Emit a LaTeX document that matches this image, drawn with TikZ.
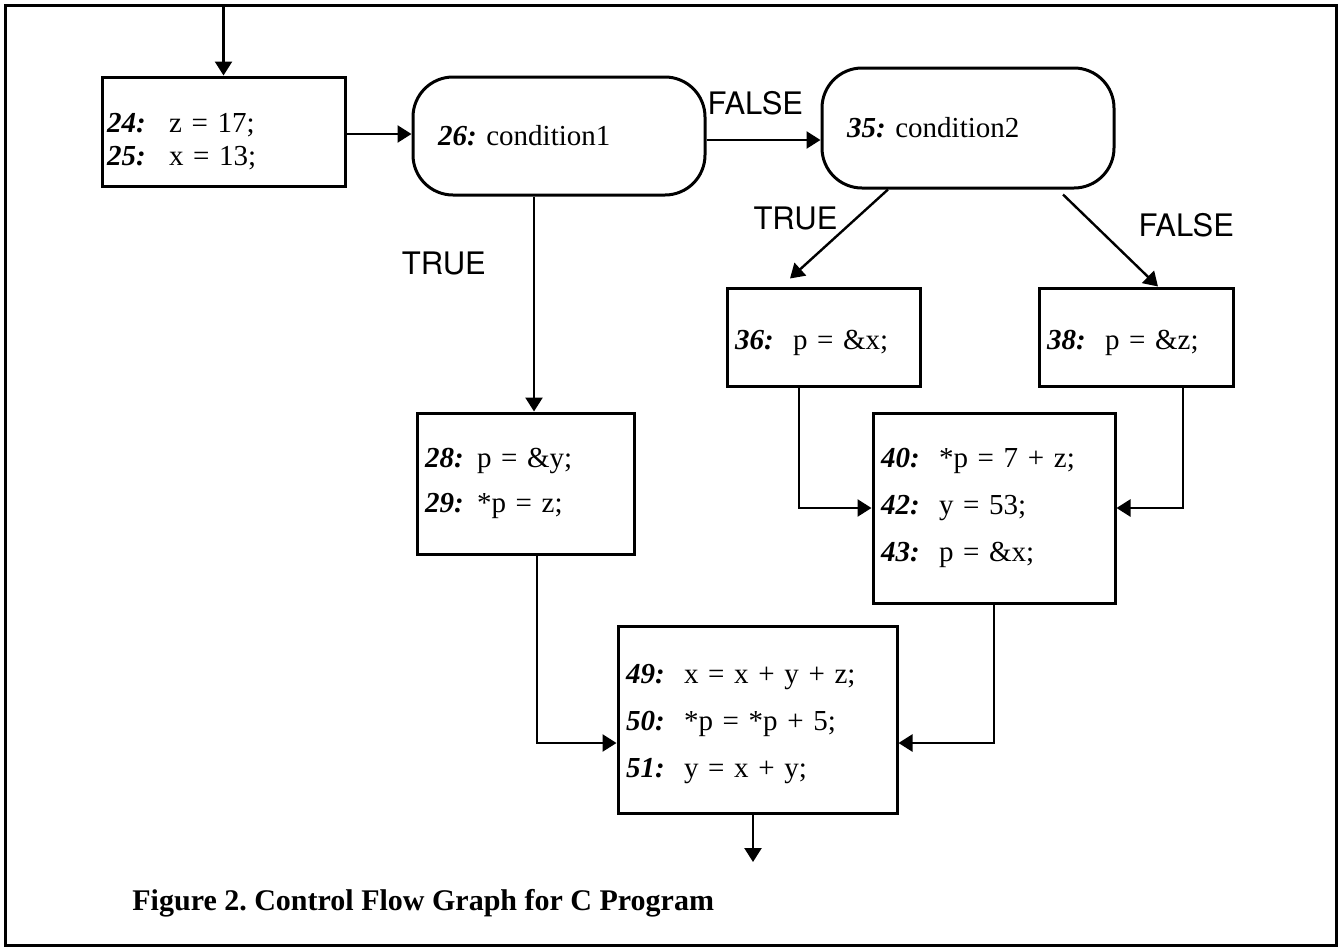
\documentclass[tikz,border=0pt]{standalone}
\usepackage{fontspec}
\setmainfont{Liberation Serif}
\setsansfont{TeX Gyre Heros}
\usepackage{tikz}
\usetikzlibrary{arrows.meta}
\frenchspacing

\newcommand{\stmt}[3][29pt]{\makebox[#1][l]{\textbf{\textit{#2}}}#3}
\newcommand{\padtop}[1]{\rule{0pt}{#1}}

\begin{document}
\begin{tikzpicture}[x=0.5pt, y=-0.5pt,
  blk/.style={draw, rectangle, line width=1.5pt, align=left, inner xsep=4pt, inner ysep=0pt, font=\fontsize{14.5}{23.5}\selectfont},
  cond/.style={blk, rounded corners=20pt, inner xsep=12.5pt},
  lbl/.style={inner sep=0pt, font=\fontsize{15.5}{18}\selectfont\sffamily},
  flow/.style={line width=1.2pt, -{Triangle[length=7pt,width=8.5pt]}}]
  \useasboundingbox (0,0) rectangle (1340,948);
  \draw[line width=1.5pt] (5,5) rectangle (1336,945);

  \node[blk, text width=116.5pt, inner xsep=2.5pt, minimum height=54.5pt, font=\fontsize{14.5}{16.5}\selectfont] (init) at (223.5,131.5) {\padtop{20pt}\stmt[31pt]{24:}{z = 17;}\\ \stmt[31pt]{25:}{x = 13;}};
  \node[cond, text width=121pt, minimum height=59pt] (cond1) at (559,136) {\textbf{\textit{26:}} condition1};
  \node[cond, text width=121pt, minimum height=60pt] (cond2) at (968,128) {\textbf{\textit{35:}} condition2};
  \node[blk, text width=88.5pt, minimum height=49pt] (asgnx) at (823.5,337) {\padtop{16pt}\stmt{36:}{p = \&x;}};
  \node[blk, text width=89pt, minimum height=49pt] (asgnz) at (1136,337) {\padtop{16pt}\stmt{38:}{p = \&z;}};
  \node[blk, text width=100.5pt, minimum height=70.5pt, font=\fontsize{14.5}{22.5}\selectfont] (asgny) at (525.5,483.5) {\stmt[26pt]{28:}{p = \&y;}\\ \stmt[26pt]{29:}{*p = z;}};
  \node[blk, text width=113pt, minimum height=95pt] (merge1) at (994,508) {\stmt{40:}{*p = 7 + z;}\\ \stmt{42:}{y = 53;}\\ \stmt{43:}{p = \&x;}};
  \node[blk, text width=131.5pt, minimum height=93.5pt] (merge2) at (757.5,719.5) {\padtop{14pt}\stmt{49:}{x = x + y + z;}\\ \stmt{50:}{*p = *p + 5;}\\ \stmt{51:}{y = x + y;}};
  \node[anchor=base west, inner sep=0pt, font=\fontsize{15}{17}\selectfont\bfseries] (caption) at (132,910) {Figure 2. Control Flow Graph for C Program};

  \coordinate (entry) at (223.5,5);
  \coordinate (exit) at (753,862);

  \draw[flow] (entry) -- (init.north);
  \draw[flow] ([yshift=-1.25pt]init.east) -- ([yshift=-1.25pt]init.east -| cond1.west);
  \draw[flow] ([yshift=-2pt]cond1.east) -- node[lbl, pos=0, anchor=south west, yshift=12pt] {FALSE} ([yshift=-2pt]cond1.east -| cond2.west);
  \draw[flow] ([xshift=4.25pt]asgny.north |- cond1.south) -- node[lbl, pos=0.31, left=23.5pt] {TRUE} ([xshift=4.25pt]asgny.north);
  \draw[flow] ([xshift=-40pt]cond2.south) -- node[lbl, pos=0.32, left=9pt] {TRUE} ([xshift=-16.75pt,yshift=4pt]asgnx.north);
  \draw[flow] ([xshift=47.5pt,yshift=-2.5pt]cond2.south) -- node[lbl, pos=0.33, right=21.5pt] {FALSE} ([xshift=11pt]asgnz.north);
  \draw[flow] ([xshift=-12.25pt]asgnx.south) |- (merge1.west);
  \draw[flow] ([xshift=23.5pt]asgnz.south) |- (merge1.east);
  \draw[flow] ([xshift=5.75pt]asgny.south) |- ([yshift=-11.75pt]merge2.west);
  \draw[flow] (merge1.south) |- ([yshift=-11.75pt]merge2.east);
  \draw[flow] (merge2.south -| exit) -- (exit);
\end{tikzpicture}
\end{document}
